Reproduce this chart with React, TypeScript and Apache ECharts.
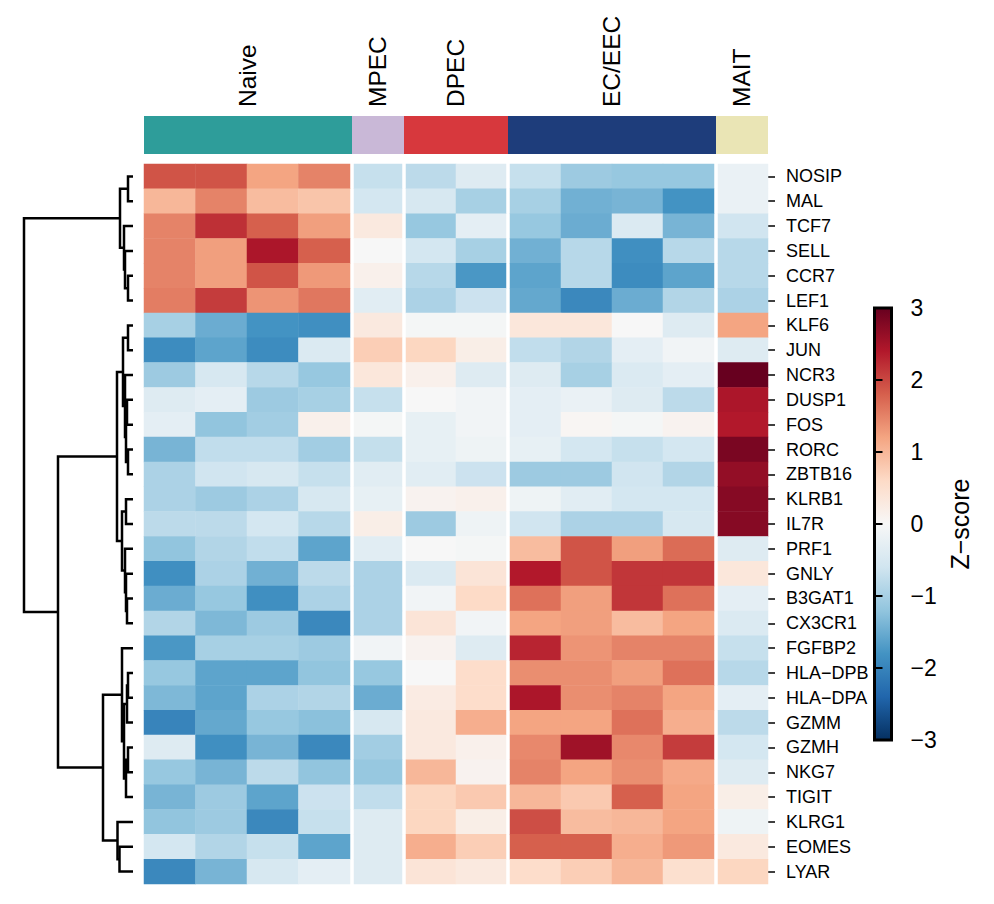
import React, { useEffect, useRef } from "react";
import * as echarts from "echarts";

const FONT = "'Liberation Sans', Arial, Helvetica, sans-serif";

// Gene rows, top to bottom (dendrogram leaf order)
const genes = [
  "NOSIP", "MAL", "TCF7", "SELL", "CCR7", "LEF1", "KLF6", "JUN", "NCR3", "DUSP1",
  "FOS", "RORC", "ZBTB16", "KLRB1", "IL7R", "PRF1", "GNLY", "B3GAT1", "CX3CR1",
  "FGFBP2", "HLA-DPB", "HLA-DPA", "GZMM", "GZMH", "NKG7", "TIGIT", "KLRG1", "EOMES", "LYAR",
];

// Cell groups (column annotation)
const groups = ["Naive", "MPEC", "DPEC", "EC/EEC", "MAIT"];
const groupSizes = [4, 1, 2, 4, 1];
const groupColors = ["#2E9D9A", "#C9B8D7", "#D7383D", "#1E3D7B", "#EAE5B5"];

// Row z-scores, one list per group (rows follow `genes`)
const naive = [
  [1.9, 1.9, 1.2, 1.5], [1.0, 1.5, 0.95, 0.85], [1.5, 2.2, 1.8, 1.25], [1.5, 1.25, 2.45, 1.8],
  [1.5, 1.25, 1.9, 1.3], [1.55, 2.1, 1.35, 1.6], [-1.0, -1.5, -1.8, -1.85], [-1.9, -1.6, -1.9, -0.45],
  [-1.1, -0.5, -0.85, -1.15], [-0.4, -0.3, -1.1, -1.0], [-0.3, -1.2, -1.05, 0.15], [-1.4, -0.75, -0.75, -1.05],
  [-0.95, -0.6, -0.5, -0.7], [-0.95, -1.1, -0.95, -0.5], [-0.8, -0.8, -0.55, -0.85], [-1.2, -0.9, -0.75, -1.6],
  [-1.85, -0.95, -1.45, -0.8], [-1.5, -1.15, -1.85, -0.95], [-0.9, -1.35, -1.1, -1.95], [-1.75, -1.0, -1.0, -1.1],
  [-1.15, -1.6, -1.6, -1.2], [-1.35, -1.6, -0.95, -0.9], [-2.0, -1.55, -1.15, -1.25], [-0.4, -1.85, -1.4, -1.95],
  [-1.15, -1.4, -0.8, -1.2], [-1.4, -1.1, -1.6, -0.65], [-1.2, -1.1, -1.95, -0.7], [-0.55, -0.9, -0.7, -1.6],
  [-1.95, -1.4, -0.5, -0.3],
];
const mpec = [
  -0.7, -0.55, 0.3, 0.0, 0.15, -0.35, 0.3, 0.75, 0.35, -0.7, -0.05, -0.72, -0.35, -0.25, 0.2,
  -0.35, -0.95, -0.95, -0.95, -0.1, -1.15, -1.5, -0.5, -1.05, -1.15, -0.75, -0.4, -0.4, -0.4,
];
const dpec = [
  [-0.8, -0.4], [-0.5, -1.0], [-1.15, -0.3], [-0.55, -1.0], [-0.85, -1.75], [-0.95, -0.65],
  [-0.05, -0.05], [0.65, 0.2], [0.15, -0.4], [0.0, -0.1], [-0.25, -0.1], [-0.25, -0.15],
  [-0.35, -0.65], [0.1, 0.15], [-1.1, -0.15], [0.0, -0.05], [-0.45, 0.4], [-0.1, 0.6],
  [0.4, -0.1], [0.1, -0.4], [0.0, 0.55], [0.25, 0.55], [0.3, 1.1], [0.3, 0.15],
  [1.0, 0.1], [0.65, 0.8], [0.65, 0.2], [1.1, 0.75], [0.4, 0.3],
];
const ecEec = [
  [-0.7, -1.1, -1.15, -1.15], [-1.0, -1.45, -1.4, -1.8], [-1.15, -1.5, -0.45, -1.4], [-1.45, -0.85, -1.85, -0.85],
  [-1.6, -0.85, -1.9, -1.6], [-1.55, -1.95, -1.5, -0.9], [0.35, 0.35, 0.0, -0.4], [-0.75, -0.9, -0.3, -0.1],
  [-0.4, -1.0, -0.45, -0.3], [-0.3, -0.2, -0.4, -0.8], [-0.3, 0.05, -0.05, 0.1], [-0.25, -0.55, -0.7, -0.55],
  [-1.1, -1.1, -0.6, -0.9], [-0.15, -0.35, -0.55, -0.55], [-0.6, -0.95, -0.95, -0.5], [0.95, 1.9, 1.25, 1.7],
  [2.4, 1.9, 2.15, 2.15], [1.65, 1.25, 2.15, 1.65], [1.2, 1.25, 0.95, 1.2], [2.3, 1.35, 1.5, 1.5],
  [1.4, 1.4, 1.25, 1.65], [2.45, 1.4, 1.5, 1.2], [1.2, 1.2, 1.65, 1.1], [1.45, 2.55, 1.45, 2.1],
  [1.5, 1.2, 1.4, 1.15], [1.0, 0.8, 1.8, 1.2], [1.95, 0.95, 1.0, 1.2], [1.8, 1.8, 1.1, 1.3],
  [0.55, 0.75, 1.0, 0.5],
];
const mait = [
  -0.2, -0.2, -0.6, -0.85, -0.85, -0.95, 1.2, -0.4, 3.0, 2.45, 2.4, 2.85, 2.65, 2.75, 2.75,
  -0.4, 0.35, -0.3, -0.45, -0.7, -0.85, -0.3, -0.8, -0.55, -0.4, 0.2, -0.15, 0.3, 0.65,
];

// Row dendrogram as linkage: [child A, child B, merge height]; leaves are 0..28,
// merged nodes are numbered from 29 onward in the order listed.
const linkage = [
  [0, 1, 0.5], [4, 5, 0.5], [3, 30, 0.8], [2, 31, 0.9], [29, 32, 1.3],
  [6, 7, 0.5], [9, 10, 0.6], [11, 12, 0.5], [35, 36, 0.7], [8, 37, 0.8], [34, 38, 1.0],
  [13, 14, 0.7], [17, 18, 0.6], [16, 41, 0.7], [15, 42, 0.8], [40, 43, 1.1], [39, 44, 1.6],
  [20, 21, 0.5], [46, 22, 0.6], [23, 24, 0.5], [48, 25, 0.7], [47, 49, 0.9], [19, 50, 1.1],
  [27, 28, 1.35], [26, 52, 1.55], [51, 53, 3.0], [45, 54, 7.5], [33, 55, 10.9],
];
const dendroMax = 10.9;

// Colour bar ticks
const colorTicks = [-3, -2, -1, 0, 1, 2, 3];

// RdBu (reversed): low = blue, high = red
const rdbu = [
  "#053061", "#2166ac", "#4393c3", "#92c5de", "#d1e5f0", "#f7f7f7",
  "#fddbc7", "#f4a582", "#d6604d", "#b2182b", "#67001f",
];

const groupValues = [naive, mpec.map((v) => [v]), dpec, ecEec, mait.map((v) => [v])];

// typeset hyphens and negative signs as a true minus
const MINUS = "\u2212";
const minusFmt = (v: number) => (v < 0 ? MINUS + Math.abs(v) : String(v));
const geneFmt = (s: string) => s.replace(/-/g, MINUS);

function buildOption() {
  // layout of the heatmap: 12 columns of 52px starting at x=144, 4px gaps between groups
  const colW = 52;
  const heatLeft = 144;
  const heatTop = 164;
  const heatHeight = 720;
  const totalCols = groupSizes.reduce((a, b) => a + b, 0);

  const grids: any[] = [];
  const xAxes: any[] = [];
  const yAxes: any[] = [];
  const series: any[] = [];

  // --- dendrogram ---
  const nodeY: number[] = genes.map((_, i) => i + 0.5);
  const nodeH: number[] = genes.map(() => 0);
  const dendroData = linkage.map(([a, b, h]) => {
    const item = [nodeH[a], nodeY[a], nodeH[b], nodeY[b], h];
    nodeY.push((nodeY[a] + nodeY[b]) / 2);
    nodeH.push(h);
    return item;
  });
  grids.push({ left: 24, top: heatTop, width: 109, height: heatHeight });
  xAxes.push({ gridIndex: 0, type: "value", min: 0, max: dendroMax, inverse: true, show: false });
  yAxes.push({ gridIndex: 0, type: "value", min: 0, max: genes.length, inverse: true, show: false });
  series.push({
    type: "custom",
    xAxisIndex: 0,
    yAxisIndex: 0,
    data: dendroData,
    encode: { x: [0, 2, 4], y: [1, 3] },
    renderItem: (_p: any, api: any) => {
      const p1 = api.coord([api.value(0), api.value(1)]);
      const p2 = api.coord([api.value(4), api.value(1)]);
      const p3 = api.coord([api.value(4), api.value(3)]);
      const p4 = api.coord([api.value(2), api.value(3)]);
      return {
        type: "polyline",
        shape: { points: [p1, p2, p3, p4] },
        style: { stroke: "#000", lineWidth: 2.5, fill: null, lineJoin: "miter" },
      };
    },
  });

  // --- column annotation bar with group names ---
  const starts: number[] = [];
  let acc = 0;
  groupSizes.forEach((s) => {
    starts.push(acc);
    acc += s;
  });
  grids.push({ left: heatLeft, top: 116, width: colW * totalCols, height: 38 });
  xAxes.push({ gridIndex: 1, type: "value", min: 0, max: totalCols, show: false });
  yAxes.push({ gridIndex: 1, type: "value", min: 0, max: 1, show: false });
  series.push({
    type: "custom",
    xAxisIndex: 1,
    yAxisIndex: 1,
    data: groups.map((_, i) => [starts[i], starts[i] + groupSizes[i], i]),
    encode: { x: [0, 1] },
    renderItem: (_p: any, api: any) => {
      const idx = api.value(2);
      const tl = api.coord([api.value(0), 1]);
      const br = api.coord([api.value(1), 0]);
      return {
        type: "group",
        children: [
          {
            type: "rect",
            shape: { x: tl[0], y: tl[1], width: br[0] - tl[0], height: br[1] - tl[1] },
            style: { fill: groupColors[idx] },
          },
          {
            type: "text",
            x: (tl[0] + br[0]) / 2 - 1,
            y: tl[1] - 9,
            rotation: Math.PI / 2,
            style: {
              text: groups[idx],
              align: "left",
              verticalAlign: "middle",
              fontSize: 24.5,
              fontFamily: FONT,
              fill: "#000",
            },
          },
        ],
      };
    },
  });

  // --- heatmap blocks, one grid per group ---
  const heatSeriesIdx: number[] = [];
  groups.forEach((g, gi) => {
    const startCol = starts[gi];
    const endCol = startCol + groupSizes[gi];
    const x0 = heatLeft + colW * startCol + (startCol > 0 ? 2 : 0);
    const x1 = heatLeft + colW * endCol - (endCol < totalCols ? 2 : 0);
    const gridIndex = grids.length;
    grids.push({ left: x0, top: heatTop, width: x1 - x0, height: heatHeight });
    const cols = Array.from({ length: groupSizes[gi] }, (_, k) => `${g} ${k + 1}`);
    xAxes.push({ gridIndex, type: "category", data: cols, show: false });
    const isLast = gi === groups.length - 1;
    yAxes.push({
      gridIndex,
      type: "category",
      data: genes,
      inverse: true,
      show: isLast,
      position: "right",
      axisLine: { show: false },
      axisTick: { show: isLast, alignWithLabel: true, length: 7, lineStyle: { color: "#000", width: 1.5 } },
      axisLabel: { show: isLast, color: "#000", fontSize: 18, fontFamily: FONT, margin: 18, formatter: geneFmt },
      splitLine: { show: false },
    });
    const data: number[][] = [];
    groupValues[gi].forEach((row, r) => row.forEach((v, c) => data.push([c, r, v])));
    heatSeriesIdx.push(series.length);
    series.push({
      type: "heatmap",
      xAxisIndex: gridIndex,
      yAxisIndex: gridIndex,
      data,
      itemStyle: { borderWidth: 0 },
      emphasis: { disabled: true },
    });
  });

  // --- colour bar ---
  const cbIndex = grids.length;
  grids.push({
    left: 874.5,
    top: 308,
    width: 17,
    height: 432,
    show: true,
    borderColor: "#000",
    borderWidth: 3,
    backgroundColor: new echarts.graphic.LinearGradient(
      0, 0, 0, 1,
      rdbu.slice().reverse().map((c, i) => ({ offset: i / (rdbu.length - 1), color: c }))
    ),
  });
  xAxes.push({ gridIndex: cbIndex, type: "value", min: 0, max: 1, show: false });
  yAxes.push({
    gridIndex: cbIndex,
    type: "value",
    min: colorTicks[0],
    max: colorTicks[colorTicks.length - 1],
    interval: 1,
    position: "right",
    axisLine: { show: false },
    axisTick: { show: true, length: 8, lineStyle: { color: "#000", width: 2 } },
    axisLabel: { color: "#000", fontSize: 23, fontFamily: FONT, margin: 19, formatter: minusFmt },
    splitLine: { show: false },
  });

  return {
    animation: false,
    backgroundColor: "#fff",
    textStyle: { fontFamily: FONT },
    grid: grids,
    xAxis: xAxes,
    yAxis: yAxes,
    visualMap: {
      type: "continuous",
      show: false,
      min: colorTicks[0],
      max: colorTicks[colorTicks.length - 1],
      seriesIndex: heatSeriesIdx,
      inRange: { color: rdbu },
    },
    graphic: [
      {
        type: "text",
        x: 960,
        y: 524,
        rotation: Math.PI / 2,
        style: {
          text: "Z" + MINUS + "score",
          align: "center",
          verticalAlign: "middle",
          fontSize: 25,
          fontFamily: FONT,
          fill: "#000",
        },
      },
    ],
    series,
  };
}

export default function App() {
  const ref = useRef<HTMLDivElement>(null);
  useEffect(() => {
    if (!ref.current) return;
    const chart = echarts.init(ref.current, undefined, { renderer: "svg" });
    chart.setOption(buildOption() as any);
    return () => chart.dispose();
  }, []);
  return (
    <div
      ref={ref}
      style={{ position: "fixed", left: 0, top: 0, width: 994, height: 904, background: "#fff" }}
    />
  );
}
